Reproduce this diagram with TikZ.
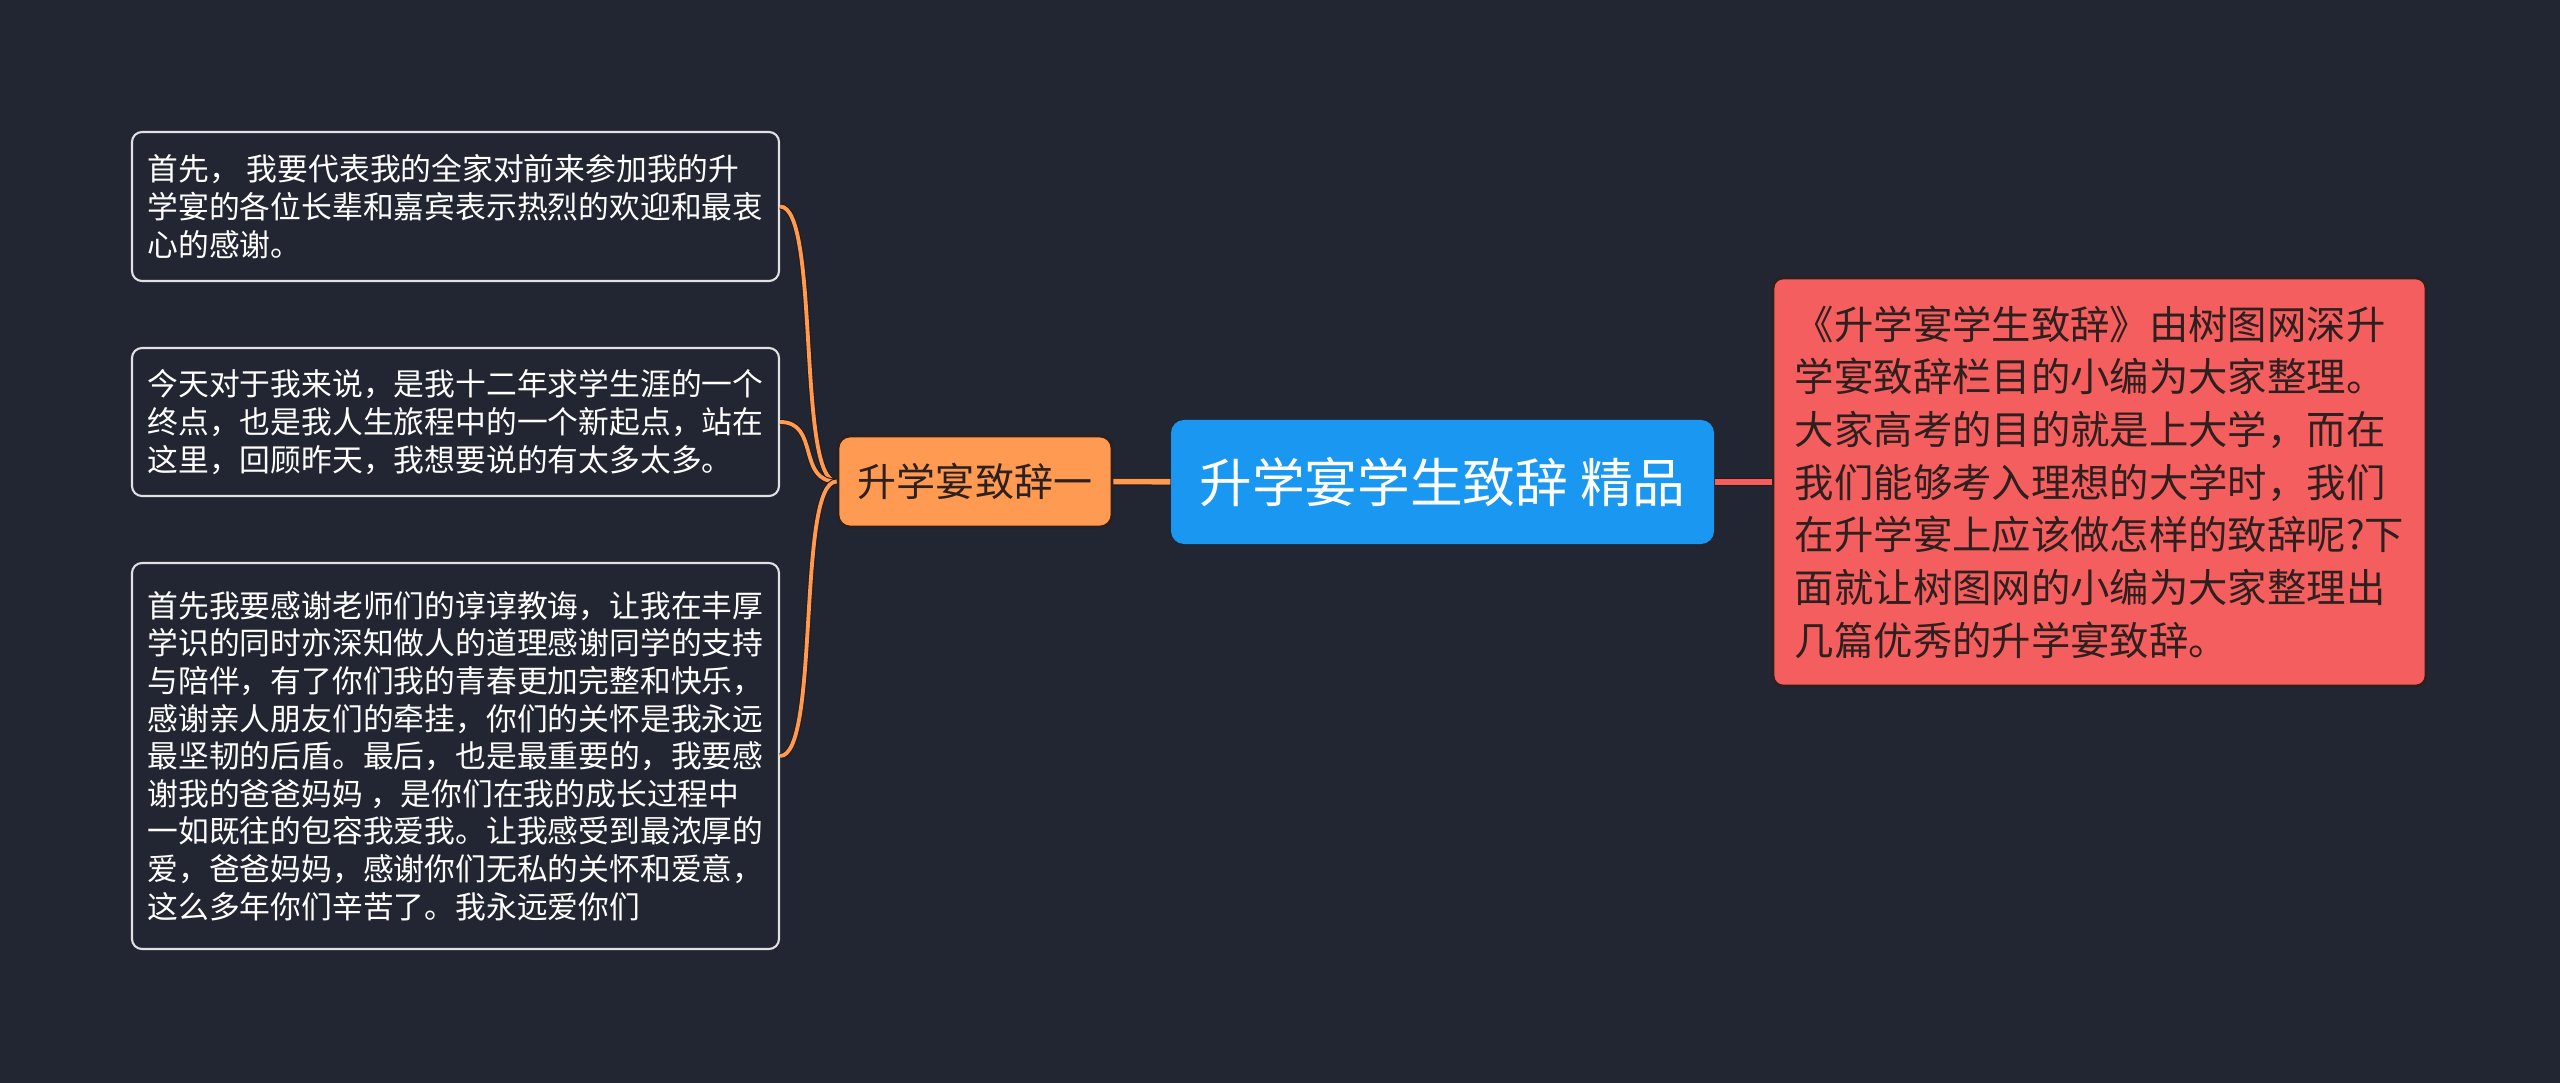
\documentclass[tikz,border=0pt]{standalone}
\usepackage{fontspec}
\newfontfamily\cjk{Noto Sans CJK SC}
\usepackage{tikz}
\usetikzlibrary{positioning, calc}
\definecolor{mapbg}{RGB}{34,38,50}
\definecolor{mapblue}{RGB}{26,151,240}
\definecolor{maporange}{RGB}{255,154,82}
\definecolor{mapred}{RGB}{245,94,94}
\definecolor{mapdark}{RGB}{45,32,30}
\definecolor{leafline}{RGB}{225,225,228}

\begin{document}
\begin{tikzpicture}[
    leaf/.style={rectangle, rounded corners=0.1cm, draw=leafline, line width=0.6pt, fill=mapbg, text=white, align=left, font=\cjk\fontsize{8.76}{10.7}\selectfont, minimum width=6.47cm, inner sep=0pt},
    topic/.style={rectangle, rounded corners=0.12cm, draw=mapdark, line width=0.8pt, fill=maporange, text=mapdark, font=\cjk\fontsize{11.1}{13}\selectfont, minimum width=2.74cm, minimum height=0.91cm, inner sep=0pt},
    root/.style={rectangle, rounded corners=0.13cm, fill=mapblue, text=white, font=\cjk\fontsize{15}{18}\selectfont, minimum width=5.43cm, minimum height=1.24cm, inner sep=0pt},
    note/.style={rectangle, rounded corners=0.1cm, draw=mapdark, line width=0.8pt, fill=mapred, text=mapdark, align=left, font=\cjk\fontsize{11.2}{15}\selectfont, minimum width=6.53cm, minimum height=4.08cm, inner sep=0pt},
    branch/.style={draw=mapdark!80!black, line width=0.3pt, double=maporange, double distance=1.1pt},
    trunk/.style={double distance=1.6pt}
]

% Background
\fill[mapbg] (0,0) rectangle (25.6,-10.83);
\useasboundingbox (0,0) rectangle (25.6,-10.83);

% Centre
\node[root] (root) at (14.425,-4.82) {升学宴学生致辞 精品};
\node[topic] (speech) at (9.75,-4.815) {升学宴致辞一};
\node[note] (intro) at (20.995,-4.82) {《升学宴学生致辞》由树图网深升\\学宴致辞栏目的小编为大家整理。\\大家高考的目的就是上大学，而在\\我们能够考入理想的大学时，我们\\在升学宴上应该做怎样的致辞呢?下\\面就让树图网的小编为大家整理出\\几篇优秀的升学宴致辞。};

% Leaves
\node[leaf, minimum height=1.49cm] (thanks) at (4.555,-2.065) {首先， 我要代表我的全家对前来参加我的升\\学宴的各位长辈和嘉宾表示热烈的欢迎和最衷\\心的感谢。};
\node[leaf, minimum height=1.48cm] (today) at (4.555,-4.22) {今天对于我来说，是我十二年求学生涯的一个\\终点，也是我人生旅程中的一个新起点，站在\\这里，回顾昨天，我想要说的有太多太多。};
\node[leaf, minimum height=3.86cm] (family) at (4.555,-7.56) {首先我要感谢老师们的谆谆教诲，让我在丰厚\\学识的同时亦深知做人的道理感谢同学的支持\\与陪伴，有了你们我的青春更加完整和快乐，\\感谢亲人朋友们的牵挂，你们的关怀是我永远\\最坚韧的后盾。最后，也是最重要的，我要感\\谢我的爸爸妈妈 ，是你们在我的成长过程中\\一如既往的包容我爱我。让我感受到最浓厚的\\爱，爸爸妈妈，感谢你们无私的关怀和爱意，\\这么多年你们辛苦了。我永远爱你们};

% Connectors
\draw[branch, trunk] (speech) -- (root);
\draw[branch, trunk, double=mapred] (root) -- (intro);
\draw[branch] (speech.west) .. controls +(-0.4,0) and +(0.4,0) .. (thanks.east);
\draw[branch] (speech.west) .. controls +(-0.4,0) and +(0.4,0) .. (today.east);
\draw[branch] (speech.west) .. controls +(-0.4,0) and +(0.4,0) .. (family.east);

\end{tikzpicture}
\end{document}
